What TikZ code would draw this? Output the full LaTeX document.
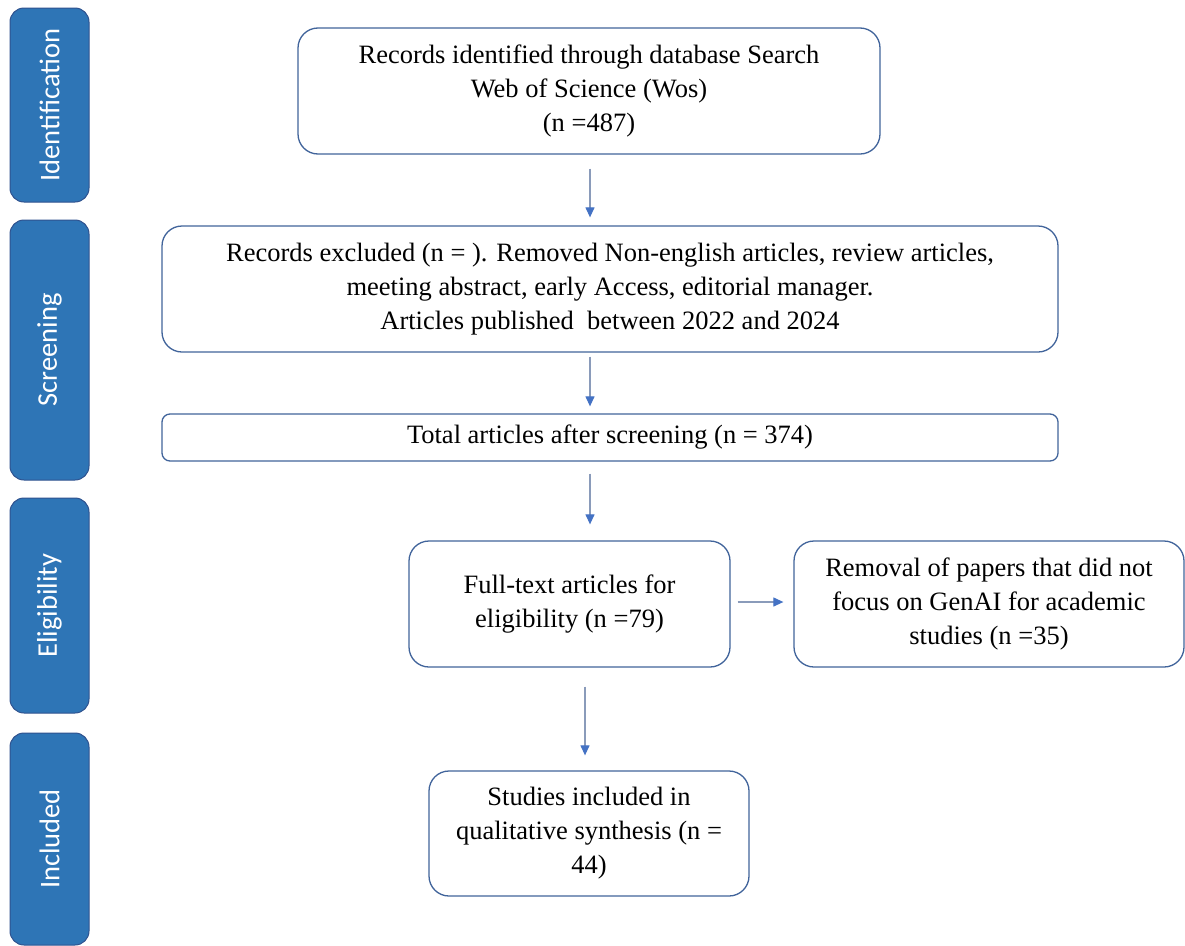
\documentclass[tikz,border=0pt]{standalone}
\usepackage{fontspec}
\setmainfont{Liberation Serif}
\newfontfamily\sidefont{Carlito}
\usetikzlibrary{arrows.meta}
\definecolor{boxline}{HTML}{41649B}
\definecolor{sidefill}{HTML}{2E75B6}
\definecolor{sideline}{HTML}{2F528F}
\definecolor{arrline}{HTML}{8A9BBA}
\definecolor{arrtip}{HTML}{4472C4}
\tikzset{
  box/.style={draw=boxline, line width=1.3pt, rounded corners=20pt, align=center, inner sep=0pt,
    font=\fontsize{26.5}{34}\selectfont, text=black},
  sidebox/.style={draw=sideline, fill=sidefill, line width=1pt, rounded corners=14pt, rotate=90,
    inner sep=0pt, text=white, font=\sidefont\fontsize{28.5}{30}\selectfont},
  arr/.style={draw=arrline, line width=1.2pt, -{Triangle[length=10pt,width=9pt,fill=arrtip,color=arrtip]}},
}
\begin{document}
\begin{tikzpicture}[x=1pt,y=-1pt]
\useasboundingbox[fill=white] (0,0) rectangle (1185,945);
% side labels
\node[sidebox, minimum width=194, minimum height=79] (sid) at (49.5,105) {Identification};
\node[sidebox, minimum width=260, minimum height=79] (ssc) at (49.5,350) {Screening};
\node[sidebox, minimum width=215, minimum height=79] (sel) at (49.5,605.5) {Eligibility};
\node[sidebox, minimum width=212, minimum height=79] (sin) at (49.5,839) {Included};
% main boxes
\node[box, minimum width=582, minimum height=126] (idn) at (589,91)
  {Records identified through database Search\\Web of Science (Wos)\\(n =487)};
\node[box, minimum width=896, minimum height=126] (exc) at (610,289)
  {Records excluded (n = ). Removed Non-english articles, review articles,\\meeting abstract, early Access, editorial manager.\\Articles published\ \ between 2022 and 2024};
\node[box, rounded corners=8pt, minimum width=896, minimum height=47] (tot) at (610,437.5)
  {Total articles after screening (n = 374)};
\node[box, minimum width=321, minimum height=126] (ft) at (569.5,604)
  {Full-text articles for\\eligibility (n =79)};
\node[box, minimum width=390, minimum height=126] (rem) at (989,604)
  {Removal of papers that did not\\focus on GenAI for academic\\studies (n =35)};
\node[box, minimum width=320, minimum height=125] (stu) at (589,833.5)
  {Studies included in\\qualitative synthesis (n =\\44)};
% arrows
\draw[arr] ([xshift=1pt,yshift=-14pt]idn.south) -- ([xshift=-20pt,yshift=8pt]exc.north);
\draw[arr] ([xshift=-20pt,yshift=-4pt]exc.south) -- ([xshift=-20pt,yshift=7pt]tot.north);
\draw[arr] ([xshift=-20pt,yshift=-12pt]tot.south) -- ([xshift=20.5pt,yshift=16pt]ft.north);
\draw[arr] ([xshift=15.5pt,yshift=-19pt]ft.south) -- ([xshift=-4pt,yshift=15pt]stu.north);
\draw[arr] ([xshift=7pt,yshift=2pt]ft.east) -- ([xshift=-10pt,yshift=2pt]rem.west);
\end{tikzpicture}
\end{document}
